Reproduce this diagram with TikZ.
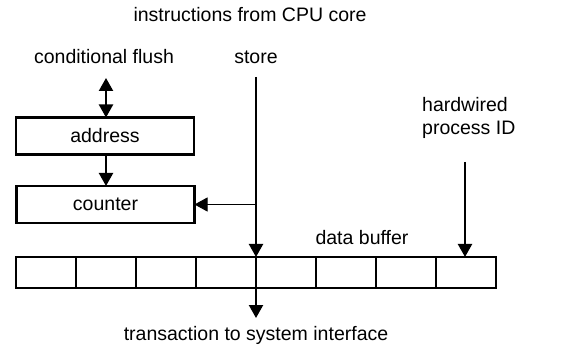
\documentclass[tikz,border=0pt]{standalone}
\usepackage{fontspec}
\setmainfont{Liberation Sans}
\usepackage{tikz}
\usetikzlibrary{positioning}
\usetikzlibrary{arrows.meta}
\tikzstyle{reg} = [rectangle, draw, line width=2.2pt, minimum width=178pt, minimum height=37pt, inner sep=0pt, outer sep=0pt]
\tikzstyle{cell} = [rectangle, draw, line width=2.2pt, minimum width=60pt, minimum height=31pt, inner sep=0pt, outer sep=0pt]
\tikzstyle{lbl} = [inner sep=0pt]
\tikzstyle{arrow} = [line width=2.2pt,-{Triangle[width=14pt,length=13pt]}]
\tikzstyle{twoway} = [line width=2.2pt,{Triangle[width=14pt,length=13pt]}-{Triangle[width=14pt,length=13pt]}]

\begin{document}
\begin{tikzpicture}[x=1pt, y=-1pt]
\fontsize{19.5}{23}\selectfont
\useasboundingbox (0,0) rectangle (567,347);

\node (instr) [lbl] at (250,15) {instructions from CPU core};
\node (flush) [lbl] at (104,57) {conditional flush};
\node (store) [lbl] at (256,57) {store};
\node (hwid) [lbl, align=left, anchor=north west] at (422,97) {hardwired\\process ID};
\node (addr) [reg] at (105,136) {address};
\node (cnt) [reg] at (105.5,204.5) {counter};
\foreach \i in {1,...,8}
  \node (c\i) [cell] at (16+30+60*\i-60,272.5) {};
\node (dbuf) [lbl] at (362,238) {data buffer};
\node (trans) [lbl] at (256,335) {transaction to system interface};

\coordinate (flushend) at (106,78);
\coordinate (storeend) at (256,77);
\coordinate (hwend) at (465,162);
\coordinate (outend) at (256,318);

\draw [twoway] (flushend) -- (addr.north -| flushend);
\draw [arrow] (addr.south -| flushend) -- (cnt.north -| flushend);
\draw [arrow] (storeend) -- (c4.north east);
\draw [line width=1pt,-{Triangle[width=14pt,length=13pt]}] (cnt.east -| storeend) -- (cnt.east);
\draw [arrow] (hwend) -- (hwend |- c8.north);
\draw [arrow] (c4.south east) -- (outend);
\end{tikzpicture}
\end{document}
